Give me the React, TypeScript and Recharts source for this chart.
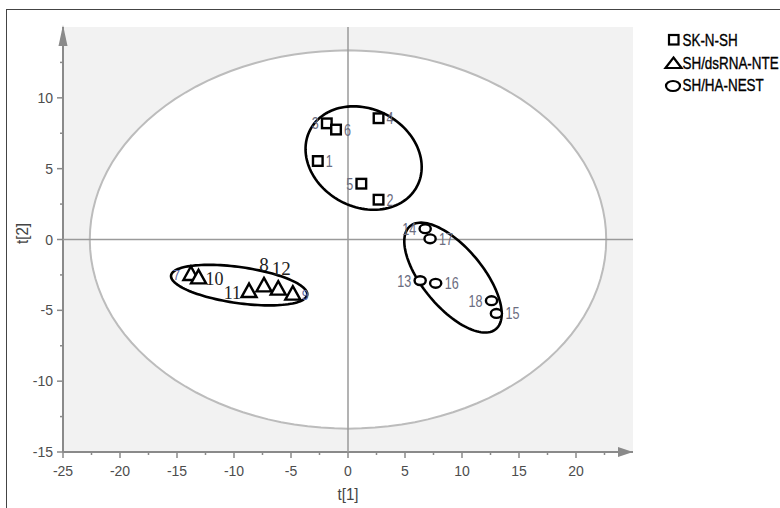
import React from "react";
import { CartesianGrid, Scatter, ScatterChart, XAxis, YAxis } from "recharts";

// PCA score plot, t[1] vs t[2]
const squareIds = [1, 2, 3, 4, 5, 6];
const squareX = [-2.65, 2.68, -1.86, 2.68, 1.17, -1.05];
const squareY = [5.54, 2.81, 8.2, 8.56, 3.94, 7.76];

const triangleIds = [7, 8, 9, 10, 11, 12];
const triangleX = [-13.78, -7.37, -4.84, -13.11, -8.68, -6.12];
const triangleY = [-2.43, -3.24, -3.82, -2.67, -3.64, -3.47];

const circleIds = [13, 14, 15, 16, 17, 18];
const circleX = [6.33, 6.77, 13.02, 7.69, 7.2, 12.59];
const circleY = [-2.9, 0.76, -5.22, -3.09, 0.05, -4.32];

const groupNames = ["SK-N-SH", "SH/dsRNA-NTE", "SH/HA-NEST"];

const xTicks = [
  -25, -22.5, -20, -17.5, -15, -12.5, -10, -7.5, -5, -2.5, 0, 2.5, 5, 7.5, 10,
  12.5, 15, 17.5, 20, 22.5,
];
const yTicks = [-15, -12.5, -10, -7.5, -5, -2.5, 0, 2.5, 5, 7.5, 10, 12.5];

// ellipses: centre + two conjugate semi-axis vectors, in t[1]/t[2] units
const hotelling = { cx: 0, cy: 0, ux: 22.65, uy: 0, vx: 0, vy: 13.35 };
const squareEllipse = { cx: 1.37, cy: 5.75, ux: 4.69, uy: -1.99, vx: -1.99, vy: -3.06 };
const triangleEllipse = { cx: -9.55, cy: -3.22, ux: 5.97, uy: -0.68, vx: -0.22, vy: -1.26 };
const circleEllipse = { cx: 9.21, cy: -2.69, ux: 3.77, uy: -3.63, vx: -2.01, vy: -1.37 };

// where each sample number sits relative to its marker
const labelSide: Record<number, "l" | "r" | "t"> = {
  1: "r", 2: "r", 3: "l", 4: "r", 5: "l", 6: "r",
  7: "l", 8: "t", 9: "r", 10: "r", 11: "l", 12: "t",
  13: "l", 14: "l", 15: "r", 16: "r", 17: "r", 18: "l",
};

const axisGrey = "#8a8a8a";
const tickFont = "'Liberation Sans', Arial, sans-serif";
const narrowFont = "'Liberation Sans Narrow', 'Arial Narrow', 'Liberation Sans', sans-serif";
const serifFont = "'Liberation Serif', 'Times New Roman', serif";
const numColor = "#6b6d80";

const toPoints = (ids: number[], xs: number[], ys: number[]) =>
  ids.map((id, i) => ({ id, x: xs[i], y: ys[i] }));

function ellipsePoints(e: typeof hotelling, n = 120) {
  const pts = [];
  for (let i = 0; i <= n; i++) {
    const t = (i / n) * Math.PI * 2;
    pts.push({
      x: e.cx + e.ux * Math.cos(t) + e.vx * Math.sin(t),
      y: e.cy + e.uy * Math.cos(t) + e.vy * Math.sin(t),
    });
  }
  return pts;
}

const closedPath = (stroke: string, width: number, fill: string) => (props: any) => {
  const pts: { x: number; y: number }[] = props.points || [];
  const d = pts.map((p, i) => `${i ? "L" : "M"}${p.x},${p.y}`).join("") + "Z";
  return <path d={d} fill={fill} stroke={stroke} strokeWidth={width} />;
};

const openPath = (stroke: string, width: number) => (props: any) => {
  const pts: { x: number; y: number }[] = props.points || [];
  const d = pts.map((p, i) => `${i ? "L" : "M"}${p.x},${p.y}`).join("");
  return <path d={d} fill="none" stroke={stroke} strokeWidth={width} />;
};

const Nothing = () => <g />;

// narrow-looking sample numbers
function NumText(props: { x: number; y: number; anchor: string; id: number; color: string; size?: number }) {
  const digits = String(props.id).length;
  return (
    <text
      x={props.x}
      y={props.y}
      textAnchor={props.anchor as any}
      fontFamily={narrowFont}
      fontSize={props.size ?? 16}
      fill={props.color}
      textLength={digits * 7}
      lengthAdjust="spacingAndGlyphs"
    >
      {props.id}
    </text>
  );
}

function sideLabel(id: number, cx: number, cy: number, gap: number) {
  const side = labelSide[id];
  return (
    <NumText
      x={side === "l" ? cx - gap : cx + gap}
      y={cy + 6}
      anchor={side === "l" ? "end" : "start"}
      id={id}
      color={numColor}
    />
  );
}

const SquareShape = (props: any) => {
  const { cx, cy } = props;
  const id = props.payload?.id ?? props.id;
  return (
    <g>
      <rect x={cx - 4.8} y={cy - 4.8} width={9.6} height={9.6} fill="#fff" stroke="#000" strokeWidth={2.4} />
      {sideLabel(id, cx, cy, 8)}
    </g>
  );
};

const CircleShape = (props: any) => {
  const { cx, cy } = props;
  const id = props.payload?.id ?? props.id;
  return (
    <g>
      <ellipse cx={cx} cy={cy} rx={5.6} ry={4.4} fill="#fff" stroke="#000" strokeWidth={2.4} />
      {sideLabel(id, cx, cy, 9)}
    </g>
  );
};

const TriangleShape = (props: any) => {
  const { cx, cy } = props;
  const id = props.payload?.id ?? props.id;
  const side = labelSide[id];
  const hidden = id === 7 || id === 9;
  let label;
  if (hidden) {
    label = (
      <NumText
        x={side === "l" ? cx - 11 : cx + 9}
        y={cy + 6}
        anchor={side === "l" ? "end" : "start"}
        id={id}
        color="#5a66a0"
        size={14}
      />
    );
  } else if (side === "t") {
    label = (
      <text x={cx + (id === 12 ? 3 : 0)} y={cy - 14} textAnchor="middle" fontFamily={serifFont} fontSize={19} fill="#222">
        {id}
      </text>
    );
  } else {
    label = (
      <text
        x={side === "l" ? cx - 8 : cx + 7}
        y={cy + 8}
        textAnchor={side === "l" ? "end" : "start"}
        fontFamily={serifFont}
        fontSize={18}
        fill="#222"
      >
        {id}
      </text>
    );
  }
  return (
    <g>
      {label}
      <path
        d={`M${cx},${cy - 7.5}L${cx + 7.5},${cy + 6}L${cx - 7.5},${cy + 6}Z`}
        fill="#fff"
        stroke="#000"
        strokeWidth={2.4}
        strokeLinejoin="miter"
      />
    </g>
  );
};

const ArrowRight = (props: any) => {
  const { cx, cy } = props;
  return <path d={`M${cx},${cy}L${cx - 15},${cy - 5}L${cx - 15},${cy + 5}Z`} fill={axisGrey} />;
};

const ArrowUp = (props: any) => {
  const { cx, cy } = props;
  return <path d={`M${cx},${cy - 2}L${cx + 4.5},${cy + 19}L${cx - 4.5},${cy + 19}Z`} fill={axisGrey} />;
};

const XTick = (props: any) => {
  const { x, y, payload } = props;
  const v = payload.value as number;
  const major = v % 5 === 0;
  return (
    <g>
      <line x1={x} x2={x} y1={y} y2={y + (major ? 6 : 3)} stroke={axisGrey} strokeWidth={1.5} />
      {major && (
        <text x={x} y={y + 24} textAnchor="middle" fontFamily={tickFont} fontSize={14} fill="#4d4d4d">
          {v}
        </text>
      )}
    </g>
  );
};

const YTick = (props: any) => {
  const { x, y, payload } = props;
  const v = payload.value as number;
  const major = v % 5 === 0;
  return (
    <g>
      <line x1={x} x2={x - (major ? 6 : 3)} y1={y} y2={y} stroke={axisGrey} strokeWidth={1.5} />
      {major && (
        <text x={x - 10} y={y + 5} textAnchor="end" fontFamily={tickFont} fontSize={14} fill="#4d4d4d">
          {v}
        </text>
      )}
    </g>
  );
};

function Legend() {
  return (
    <svg width={780} height={508} style={{ position: "absolute", left: 0, top: 0, pointerEvents: "none" }}>
      <rect x={669} y={35} width={9.5} height={9.5} fill="#fff" stroke="#000" strokeWidth={2.2} />
      <path d="M673.5,57.5L681.5,68L665.5,68Z" fill="#fff" stroke="#000" strokeWidth={2.2} />
      <ellipse cx={673} cy={86} rx={7} ry={5} fill="#fff" stroke="#000" strokeWidth={2.2} />
      {groupNames.map((name, i) => (
        <text
          key={name}
          transform={`translate(682.5 ${46 + i * 22.5}) scale(0.79 1)`}
          fontFamily={tickFont}
          fontSize={17}
          fill="#000"
          stroke="#000"
          strokeWidth={0.35}
        >
          {name}
        </text>
      ))}
    </svg>
  );
}

export default function App() {
  const squares = toPoints(squareIds, squareX, squareY);
  const triangles = toPoints(triangleIds, triangleX, triangleY);
  const circles = toPoints(circleIds, circleX, circleY);

  return (
    <div style={{ position: "relative", width: 780, height: 508, overflow: "hidden", background: "#fff" }}>
      <style>{"body{margin:0}"}</style>
      <div
        style={{
          position: "absolute",
          left: 6,
          top: 9,
          width: 780,
          height: 508,
          borderTop: "1.5px solid #444",
          borderLeft: "1.5px solid #444",
        }}
      />
      <ScatterChart width={780} height={508} margin={{ top: 27, right: 147, bottom: 11, left: 8 }}>
        <CartesianGrid fill="#f2f2f2" horizontal={false} vertical={false} stroke="none" />
        <XAxis
          type="number"
          dataKey="x"
          domain={[-25, 25]}
          ticks={xTicks}
          interval={0}
          height={45}
          tickSize={0}
          tickMargin={0}
          tickLine={false}
          tick={<XTick />}
          axisLine={{ stroke: axisGrey, strokeWidth: 2 }}
          label={{
            content: (p: any) => {
              const vb = p.viewBox || {};
              return (
                <text
                  x={vb.x + vb.width / 2}
                  y={vb.y + 48}
                  textAnchor="middle"
                  fontFamily={narrowFont}
                  fontSize={16}
                  fill="#444"
                  textLength={21}
                  lengthAdjust="spacingAndGlyphs"
                >
                  t[1]
                </text>
              );
            },
          }}
        />
        <YAxis
          type="number"
          dataKey="y"
          domain={[-15, 15]}
          ticks={yTicks}
          interval={0}
          width={55}
          tickSize={0}
          tickMargin={0}
          tickLine={false}
          tick={<YTick />}
          axisLine={{ stroke: axisGrey, strokeWidth: 2 }}
          label={{
            content: (p: any) => {
              const vb = p.viewBox || {};
              const lx = vb.x + 20;
              const ly = vb.y + vb.height / 2 - 6;
              return (
                <text
                  x={lx}
                  y={ly}
                  transform={`rotate(-90 ${lx} ${ly})`}
                  textAnchor="middle"
                  fontFamily={narrowFont}
                  fontSize={16}
                  fill="#444"
                  textLength={21}
                  lengthAdjust="spacingAndGlyphs"
                >
                  t[2]
                </text>
              );
            },
          }}
        />
        <Scatter
          data={ellipsePoints(hotelling)}
          line={closedPath("#bcbcbc", 2, "#fff")}
          shape={Nothing}
          isAnimationActive={false}
        />
        <Scatter
          data={[{ x: 0, y: -15 }, { x: 0, y: 15 }]}
          line={openPath("#9a9a9a", 1.5)}
          shape={Nothing}
          isAnimationActive={false}
        />
        <Scatter
          data={[{ x: -25, y: 0 }, { x: 25, y: 0 }]}
          line={openPath("#9a9a9a", 1.5)}
          shape={Nothing}
          isAnimationActive={false}
        />
        <Scatter data={[{ x: 25, y: -15 }]} shape={ArrowRight} isAnimationActive={false} />
        <Scatter data={[{ x: -25, y: 15 }]} shape={ArrowUp} isAnimationActive={false} />
        <Scatter
          data={ellipsePoints(squareEllipse)}
          line={closedPath("#000", 2.6, "none")}
          shape={Nothing}
          isAnimationActive={false}
        />
        <Scatter
          data={ellipsePoints(triangleEllipse)}
          line={closedPath("#000", 2.6, "none")}
          shape={Nothing}
          isAnimationActive={false}
        />
        <Scatter
          data={ellipsePoints(circleEllipse)}
          line={closedPath("#000", 2.6, "none")}
          shape={Nothing}
          isAnimationActive={false}
        />
        <Scatter name={groupNames[0]} data={squares} shape={SquareShape} isAnimationActive={false} />
        <Scatter name={groupNames[1]} data={triangles} shape={TriangleShape} isAnimationActive={false} />
        <Scatter name={groupNames[2]} data={circles} shape={CircleShape} isAnimationActive={false} />
      </ScatterChart>
      <Legend />
    </div>
  );
}
